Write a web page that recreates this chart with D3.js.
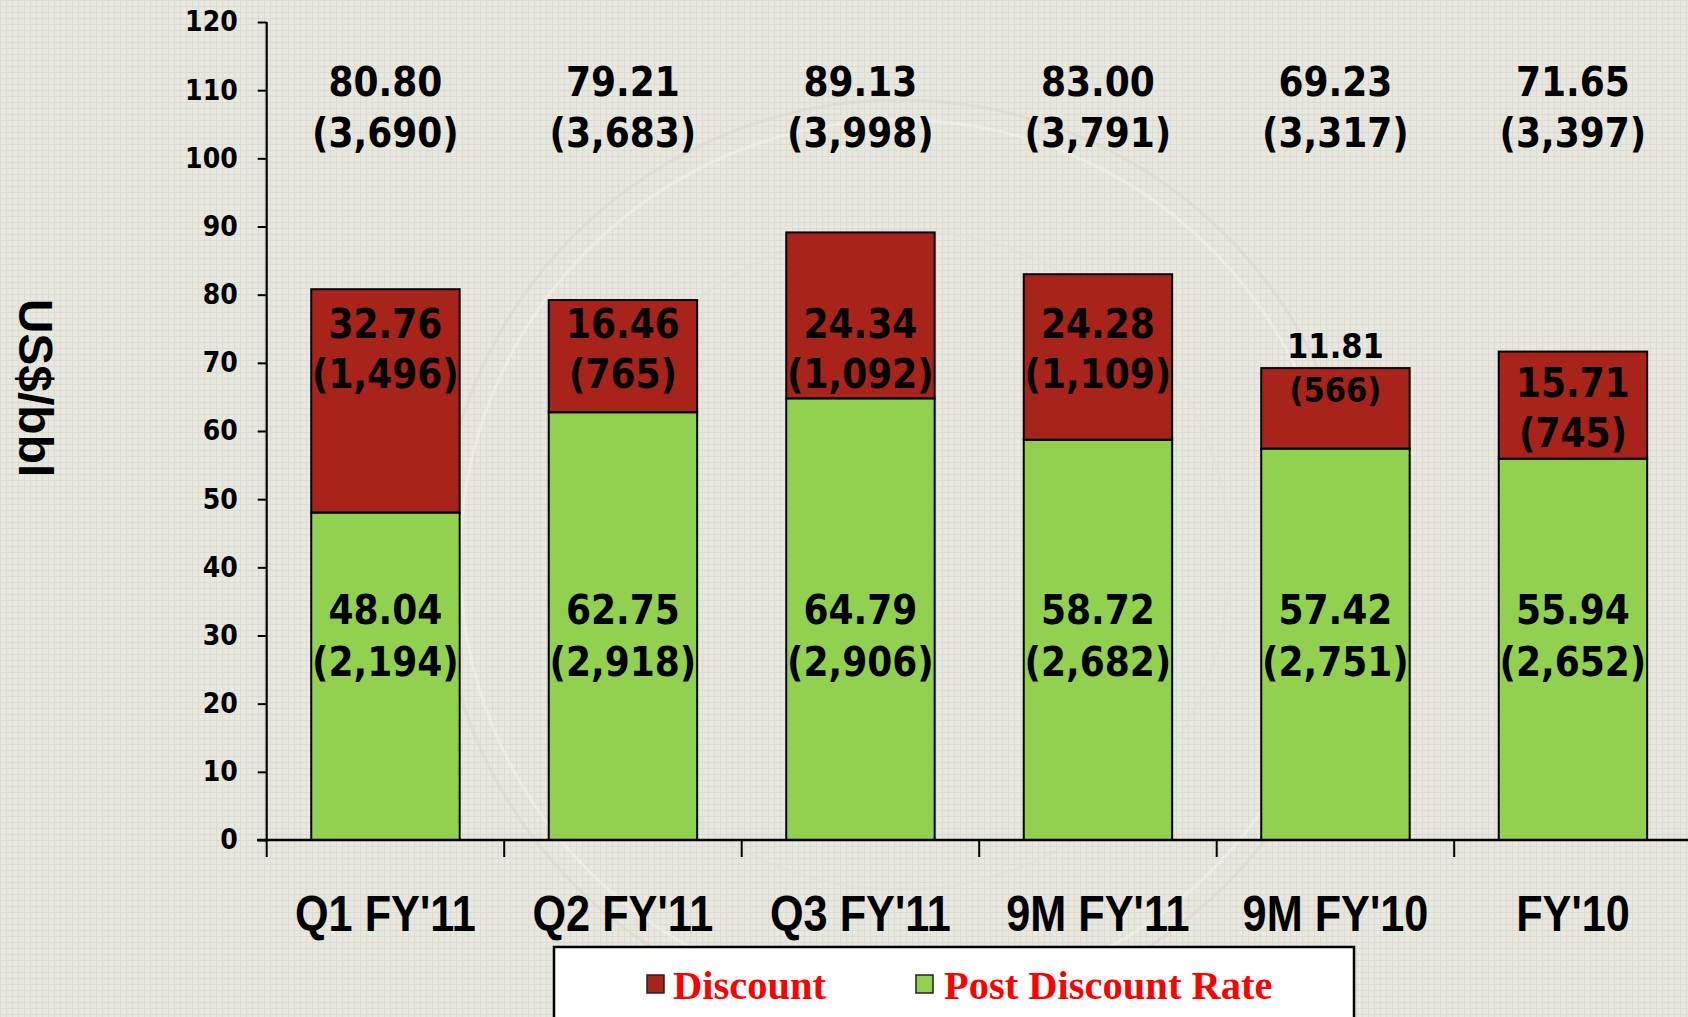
<!DOCTYPE html>
<html>
<head>
<meta charset="utf-8">
<script src="https://cdn.jsdelivr.net/npm/d3@7"></script>
<style>
  html, body { margin: 0; padding: 0; background: #e7e7df; }
  svg { display: block; }
</style>
</head>
<body>
<svg id="chart" width="1688" height="1017"></svg>
<script>
// ---------- data ----------
const categories = ["Q1 FY'11", "Q2 FY'11", "Q3 FY'11", "9M FY'11", "9M FY'10", "FY'10"];
const postDiscount = [48.04, 62.75, 64.79, 58.72, 57.42, 55.94];
const discount     = [32.76, 16.46, 24.34, 24.28, 11.81, 15.71];
const totalRate    = [80.80, 79.21, 89.13, 83.00, 69.23, 71.65];
const totalVol     = ["3,690", "3,683", "3,998", "3,791", "3,317", "3,397"];
const discountVol  = ["1,496", "765", "1,092", "1,109", "566", "745"];
const postVol      = ["2,194", "2,918", "2,906", "2,682", "2,751", "2,652"];
const yTicks = [0, 10, 20, 30, 40, 50, 60, 70, 80, 90, 100, 110, 120];
const seriesNames = ["Discount", "Post Discount Rate"];

// ---------- label anchors (value-axis units, layout only) ----------
const topLabelY = [109.2, 101.7];
const discLabelY = [[73.7, 66.3], [73.7, 66.3], [73.7, 66.3], [73.7, 66.3], [70.7, 64.3], [65.0, 57.6]];
const discLabelSize = [40, 40, 40, 40, 34, 40];
const postLabelY = [31.7, 24.1];

// ---------- styles ----------
const RED = "#a8231a", GREEN = "#92d050";
const numFont = "'DejaVu Sans Condensed', 'DejaVu Sans', sans-serif";

const svg = d3.select("#chart");
const W = 1688, H = 1017;

// background texture
const defs = svg.append("defs");
const pat = defs.append("pattern").attr("id", "grid").attr("width", 6).attr("height", 6)
  .attr("patternUnits", "userSpaceOnUse");
pat.append("rect").attr("width", 6).attr("height", 6).attr("fill", "#e8e8e0");
pat.append("path").attr("d", "M0 0.5H6M0.5 0V6").attr("stroke", "#dcdcd3").attr("stroke-width", 1);
svg.append("rect").attr("width", W).attr("height", H).attr("fill", "url(#grid)");

// faint watermark arcs
const wm = svg.append("g").attr("fill", "none").attr("stroke-width", 3);
[[900, 560, 460, "#dcd3cc"], [900, 560, 440, "#f2f2ec"], [900, 560, 330, "#e0e0d8"]].forEach(a => {
  wm.append("circle").attr("cx", a[0]).attr("cy", a[1]).attr("r", a[2]).attr("stroke", a[3]).attr("opacity", 0.55);
});

// scales
const x = d3.scaleBand().domain(categories).range([266.7, 266.7 + 6 * 237.5])
  .paddingInner(0.375).paddingOuter(0.1875);
const y = d3.scaleLinear().domain([0, 120]).range([840, 22]);

// bars
const g = svg.append("g");
const rows = categories.map((c, i) => ({ c, i, post: postDiscount[i], disc: discount[i] }));

g.selectAll("rect.post").data(rows).join("rect").attr("class", "post")
  .attr("x", d => x(d.c)).attr("width", x.bandwidth())
  .attr("y", d => y(d.post)).attr("height", d => y(0) - y(d.post))
  .attr("fill", GREEN).attr("stroke", "#000").attr("stroke-width", 2);

g.selectAll("rect.disc").data(rows).join("rect").attr("class", "disc")
  .attr("x", d => x(d.c)).attr("width", x.bandwidth())
  .attr("y", d => y(d.post + d.disc)).attr("height", d => y(d.post) - y(d.post + d.disc))
  .attr("fill", RED).attr("stroke", "#000").attr("stroke-width", 2);

// y axis
const yAxis = d3.axisLeft(y).tickValues(yTicks).tickSize(9).tickPadding(20).tickFormat(d3.format("d"));
const ya = svg.append("g").attr("transform", "translate(266.7,0)").call(yAxis);
ya.select(".domain").attr("stroke", "#000").attr("stroke-width", 2.2).attr("d", `M0,${y(120)}V${y(0)}`);
ya.selectAll(".tick line").attr("stroke", "#000").attr("stroke-width", 2);
ya.selectAll(".tick text").attr("fill", "#000").attr("font-family", numFont)
  .attr("font-weight", "bold").attr("font-size", 28);

// x axis line + category boundary ticks
const step = x.step();
const x0 = x.range()[0];
svg.append("line").attr("x1", 257).attr("x2", W).attr("y1", y(0)).attr("y2", y(0))
  .attr("stroke", "#000").attr("stroke-width", 2.5);
svg.append("g").selectAll("line").data(categories).join("line")
  .attr("x1", (d, i) => x0 + i * step).attr("x2", (d, i) => x0 + i * step)
  .attr("y1", y(0)).attr("y2", y(0) + 17).attr("stroke", "#000").attr("stroke-width", 2);

// category labels (condensed look via horizontal scale)
svg.append("g").selectAll("text").data(categories).join("text")
  .attr("transform", d => `translate(${x(d) + x.bandwidth() / 2},931) scale(0.865,1)`)
  .attr("text-anchor", "middle")
  .attr("font-family", "'Liberation Sans', Arial, sans-serif")
  .attr("font-weight", "bold").attr("font-size", 50).attr("fill", "#000")
  .text(d => d);

// y axis title
svg.append("text").attr("transform", "translate(19,388) rotate(90)")
  .attr("text-anchor", "middle")
  .attr("font-family", "'Liberation Sans', Arial, sans-serif").attr("font-weight", "bold")
  .attr("font-size", 48).attr("fill", "#000").text("US$/bbl");

// value labels
const lab = svg.append("g").attr("font-family", numFont).attr("font-weight", "bold")
  .attr("fill", "#000").attr("text-anchor", "middle");
function twoLine(i, yv, l1, l2, size) {
  const cx = x(categories[i]) + x.bandwidth() / 2;
  lab.append("text").attr("x", cx).attr("y", y(yv[0])).attr("font-size", size).text(l1);
  lab.append("text").attr("x", cx).attr("y", y(yv[1])).attr("font-size", size).text(l2);
}
categories.forEach((c, i) => {
  twoLine(i, topLabelY, totalRate[i].toFixed(2), "(" + totalVol[i] + ")", 40);
  twoLine(i, discLabelY[i], discount[i].toFixed(2), "(" + discountVol[i] + ")", discLabelSize[i]);
  twoLine(i, postLabelY, postDiscount[i].toFixed(2), "(" + postVol[i] + ")", 40);
});

// legend
const lg = svg.append("g");
lg.append("rect").attr("x", 554).attr("y", 947).attr("width", 800).attr("height", 90)
  .attr("fill", "#fff").attr("stroke", "#000").attr("stroke-width", 2.5);
const legendItems = [
  { name: seriesNames[0], color: RED, sx: 647, tx: 673 },
  { name: seriesNames[1], color: GREEN, sx: 916, tx: 944 }
];
legendItems.forEach(it => {
  lg.append("rect").attr("x", it.sx).attr("y", 975).attr("width", 17).attr("height", 18)
    .attr("fill", it.color).attr("stroke", "#222").attr("stroke-width", 1.5);
  lg.append("text").attr("x", it.tx).attr("y", 999)
    .attr("font-family", "'Liberation Serif', 'DejaVu Serif', serif").attr("font-weight", "bold")
    .attr("font-size", 40.5).attr("fill", "#ff0000").text(it.name);
});
</script>
</body>
</html>
